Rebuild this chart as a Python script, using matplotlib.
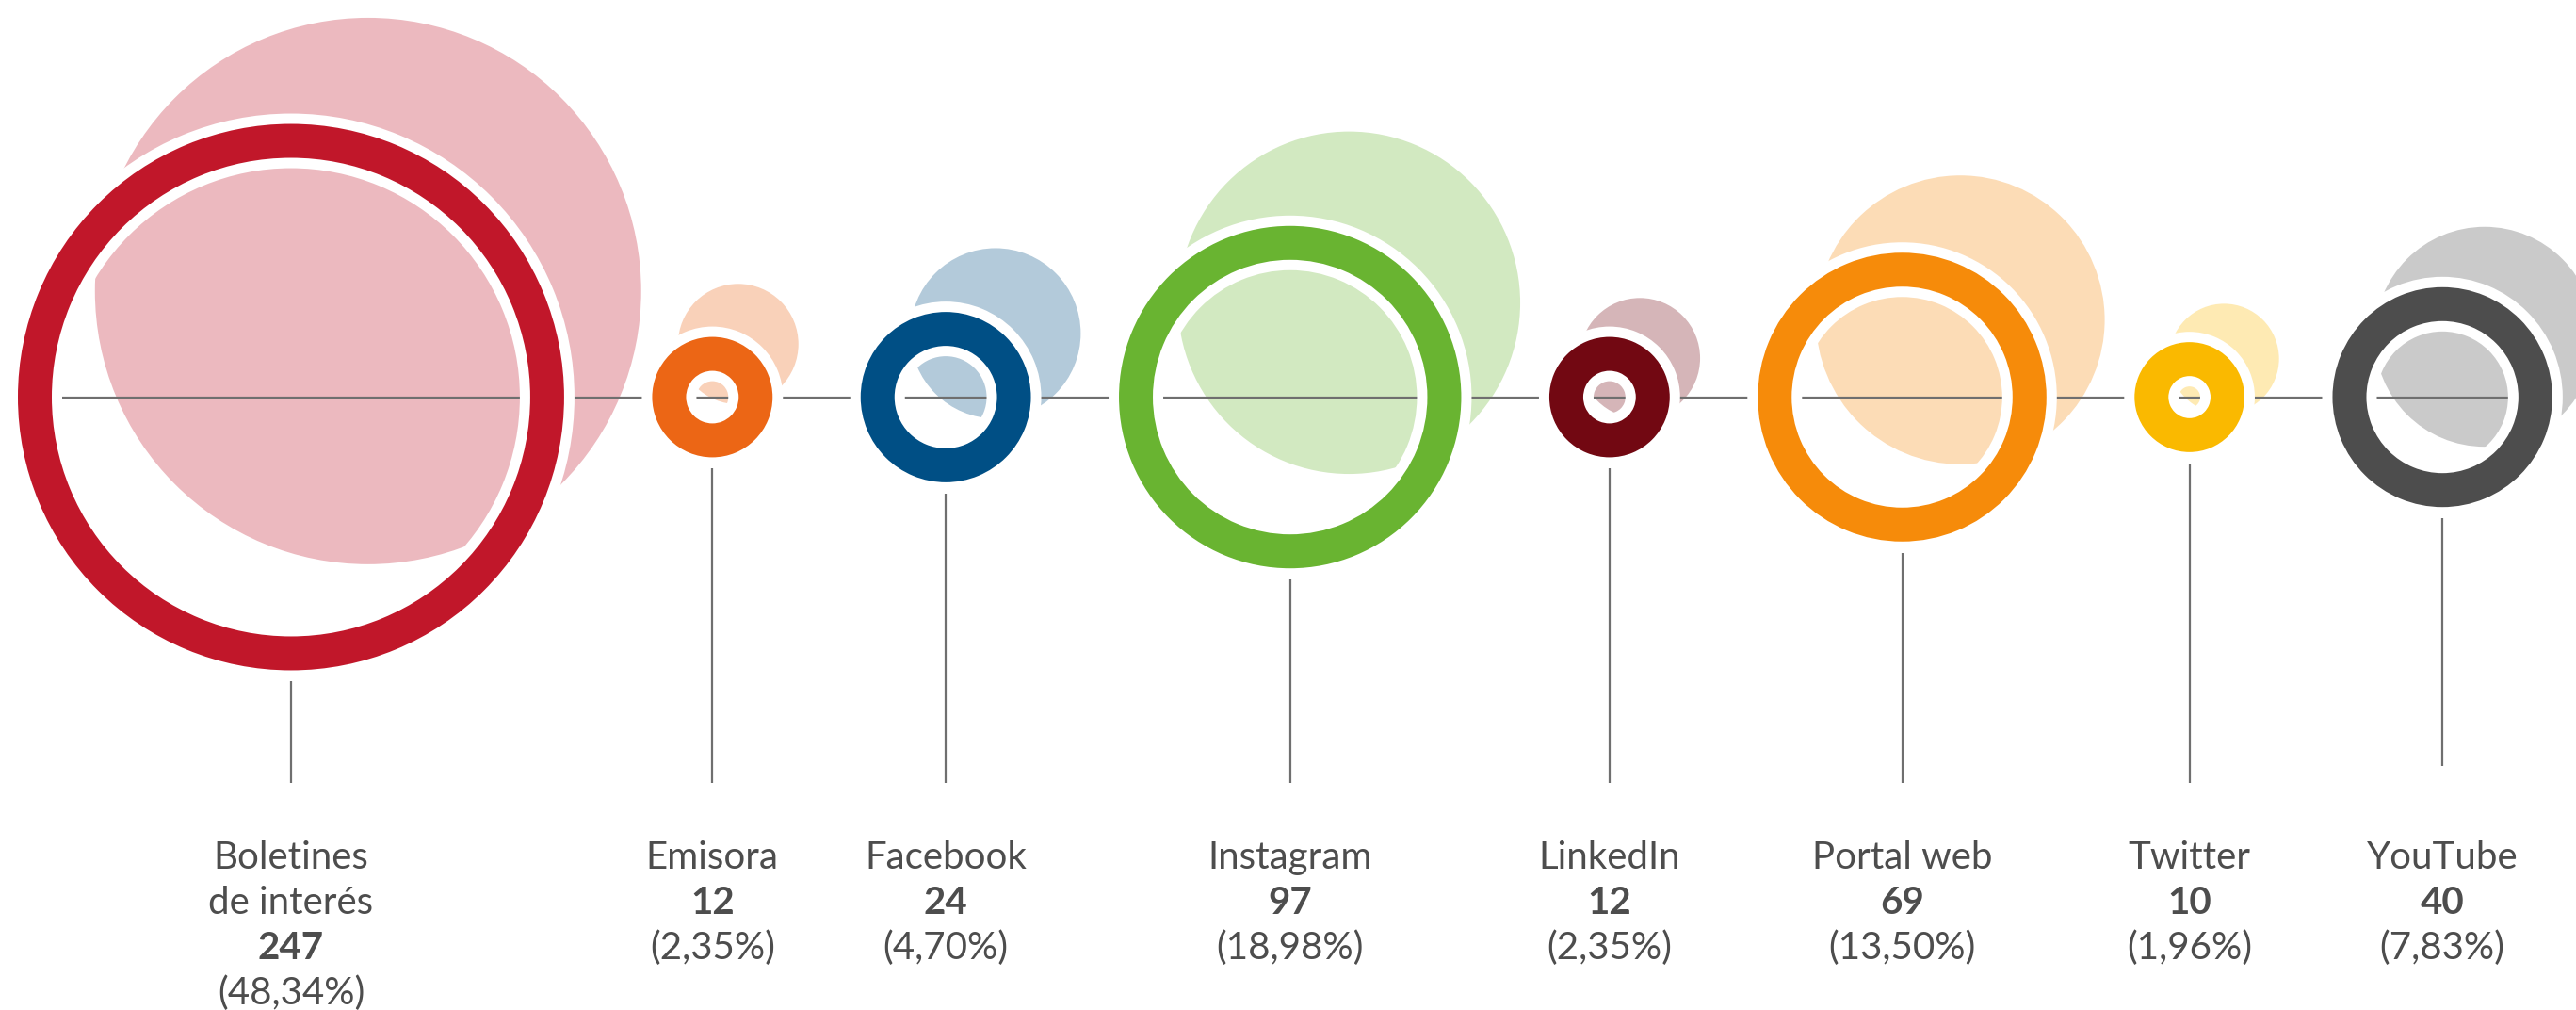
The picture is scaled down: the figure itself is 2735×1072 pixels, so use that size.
import matplotlib
matplotlib.use("Agg")
import matplotlib.pyplot as plt
from matplotlib.patches import Circle, Wedge
from matplotlib.colors import to_rgb
import numpy as np

# ---- data ----
categories = ["Boletines\nde interés", "Emisora", "Facebook", "Instagram",
              "LinkedIn", "Portal web", "Twitter", "YouTube"]
values = [247, 12, 24, 97, 12, 69, 10, 40]
percent_labels = ["(48,34%)", "(2,35%)", "(4,70%)", "(18,98%)",
                  "(2,35%)", "(13,50%)", "(1,96%)", "(7,83%)"]
colors = ["#C1172A", "#EC6615", "#004F85", "#69B431",
          "#720812", "#F68B0A", "#FAB900", "#4D4D4D"]

# ---- decorative style (pale echo disc shift: fraction of radius, angle) ----
echo_shift = [0.48, 0.98, 0.95, 0.65, 0.82, 0.67, 0.94, 0.67]
echo_angle = [54, 64, 52, 58, 52, 53, 48, 55]

W, H = 2735, 1072
fig = plt.figure(figsize=(W / 100, H / 100), dpi=100)
ax = fig.add_axes([0, 0, 1, 1])
ax.set_xlim(0, W)
ax.set_ylim(H, 0)
ax.set_aspect("equal")
ax.axis("off")

scale = 18.45      # px per sqrt(unit) -> area proportional to value
band = 36          # ring thickness
gap = 11           # white separation
spacing = 93.5     # gap between neighbouring rings
left = 19
y0 = 421.5
line_col = "#6F6F6F"
text_col = "#4D4D4D"
font = ["Lato", "DejaVu Sans"]

R = scale * np.sqrt(np.array(values, dtype=float))
centers = []
x = left
for r in R:
    centers.append(x + r)
    x += 2 * r + spacing


def pale(c, a=0.3):
    rgb = np.array(to_rgb(c))
    return tuple(1 - a * (1 - rgb))


# pale echo discs
for cx, r, c, f, ang in zip(centers, R, colors, echo_shift, echo_angle):
    t = np.deg2rad(ang)
    ax.add_patch(Circle((cx + r * f * np.cos(t), y0 - r * f * np.sin(t)), r,
                        facecolor=pale(c), edgecolor="none", zorder=1))

# baseline axis
ax.plot([centers[0] - R[0], centers[-1] + R[-1]], [y0, y0],
        color=line_col, lw=1.6, zorder=2, solid_capstyle="butt")

leader_bottom = [831, 831, 831, 831, 831, 831, 831, 813]

for i, (cx, r, c) in enumerate(zip(centers, R, colors)):
    ax.add_patch(Wedge((cx, y0), r + gap, 0, 360, width=band + 2 * gap,
                       facecolor="white", edgecolor="none", zorder=3))
    ax.add_patch(Wedge((cx, y0), r, 0, 360, width=band,
                       facecolor=c, edgecolor="none", zorder=4))
    ax.plot([cx, cx], [y0 + r + gap + 1, leader_bottom[i]],
            color=line_col, lw=1.6, zorder=2, solid_capstyle="butt")

    lines = categories[i].split("\n")
    yb = 922
    for ln in lines:
        ax.text(cx, yb, ln, ha="center", va="baseline", fontsize=29,
                color=text_col, family=font)
        yb += 48
    ax.text(cx, yb, str(values[i]), ha="center", va="baseline", fontsize=29,
            color=text_col, family=font, fontweight="bold")
    yb += 48
    ax.text(cx, yb, percent_labels[i], ha="center", va="baseline", fontsize=29,
            color=text_col, family=font)

fig.savefig("out.png", dpi=100, facecolor="white")
